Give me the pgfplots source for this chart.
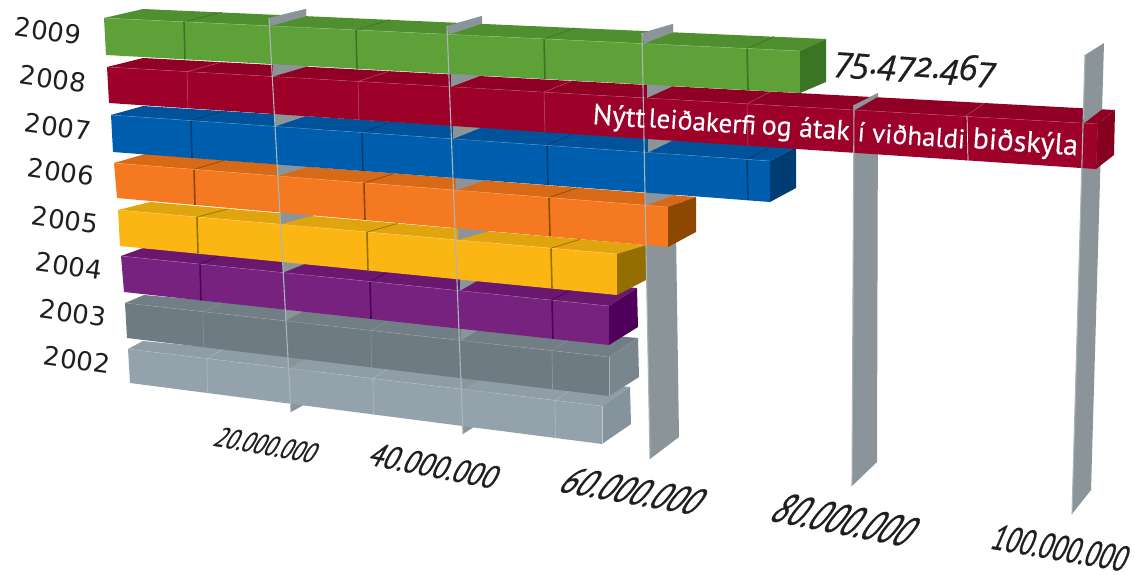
\documentclass[border=0pt]{standalone}
\usepackage{pgfplots}
\pgfplotsset{compat=1.18}
\usepackage{fontspec}
\setmainfont{PT Sans}
\newfontfamily\yr{DejaVu Sans}
\newfontfamily\val[Numbers=OldStyle,FakeBold=.5]{Open Sans Italic}
\newfontfamily\tk[FakeBold=.6]{PT Sans}
\newfontfamily\bartext[FakeBold=.3]{PT Sans}
\definecolor{planec}{HTML}{8B9499}
\definecolor{planel}{HTML}{A9B5BB}
\definecolor{gF}{HTML}{5FA139}\definecolor{gT}{HTML}{4F8F30}\definecolor{gS}{HTML}{3B7523}
\definecolor{rF}{HTML}{9D0029}\definecolor{rT}{HTML}{900024}\definecolor{rS}{HTML}{880020}
\definecolor{bF}{HTML}{005EAE}\definecolor{bT}{HTML}{00539A}\definecolor{bS}{HTML}{003D73}
\definecolor{oF}{HTML}{F47920}\definecolor{oT}{HTML}{D86A17}\definecolor{oS}{HTML}{8E4700}
\definecolor{yF}{HTML}{FCB614}\definecolor{yT}{HTML}{E0A40F}\definecolor{yS}{HTML}{946F00}
\definecolor{pF}{HTML}{782280}\definecolor{pT}{HTML}{6A186F}\definecolor{pS}{HTML}{4F005A}
\definecolor{dF}{HTML}{6F7B82}\definecolor{dT}{HTML}{727E85}\definecolor{dS}{HTML}{7A868D}
\definecolor{lF}{HTML}{94A3AB}\definecolor{lT}{HTML}{8F9EA6}\definecolor{lS}{HTML}{84939C}
\newcommand{\poly}[2]{\addplot[fill=#1,draw=none,no marks,forget plot] coordinates {#2} --cycle;}
\newcommand{\lin}[2]{\addplot[#1,no marks,forget plot] coordinates {#2};}
\newcommand{\wdg}[4]{\poly{planec}{(#1,#2) (#3,#4) (#3,#4-6) (#1,#4-6)}}
\begin{document}
\begin{tikzpicture}
\useasboundingbox (0,0) rectangle (1135pt,574pt);
\begin{axis}[at={(0,0)},anchor=south west,width=1135pt,height=574pt,scale only axis,hide axis,
  xmin=0,xmax=1135,ymin=0,ymax=574,y dir=reverse,clip=false]

% planes (gridlines), behind everything
\poly{planec}{(269,18) (306,9) (320,396) (291,412)}
\poly{planec}{(447,26) (482,16) (494,414) (463,434)}
\poly{planec}{(642,33) (673,24) (679,437) (650,459)}
\poly{planec}{(854,105) (878,93) (877,462) (852,486)}
\poly{planec}{(1085,55) (1104,43) (1091,490) (1072,514)}

% 2002
\poly{lT}{(143,341) (630,387) (602,406) (128,349)}
\poly{lF}{(128,349) (602,406) (602,444) (130,383)}
\poly{lS}{(602,406) (630,387) (631,424) (602,444)}
\lin{lF!75!white,line width=.6pt}{(207,358.5) (207.5,393)}
\lin{lF!75!white,line width=.6pt}{(373,378.5) (373.5,414.5)}
\lin{lF!75!white,line width=.6pt}{(555,400.4) (555.5,438)}
\lin{lF!85!white,line width=.6pt}{(207,358.5) (224,348.7)}
\lin{lF!85!white,line width=.6pt}{(373,378.5) (394.7,364.8)}
\lin{lF!85!white,line width=.6pt}{(555,400.4) (581.7,382.5)}
\lin{lF!75!white,line width=.4pt}{(128,349) (602,406)}
\lin{lF!60!white,line width=.6pt}{(602,406) (602,444)}
\wdg{289}{368.4}{308.4}{356.6}
\wdg{463}{389.3}{487}{374.9}

% 2003
\poly{dT}{(144,295) (638,338) (609,357) (125,303)}
\poly{dF}{(125,303) (609,357) (609,396) (127,338)}
\poly{dS}{(609,357) (638,338) (639,377) (609,396)}
\lin{dF!80!white,line width=.5pt}{(203,311.7) (203.5,347.1)}
\lin{dF!80!white,line width=.5pt}{(371,330.5) (371.5,367.4)}
\lin{dF!75!white,line width=.6pt}{(552,350.7) (552.5,389.1)}
\lin{dF!85!white,line width=.5pt}{(203,311.7) (223.6,301.9)}
\lin{dF!85!white,line width=.5pt}{(371,330.5) (395,317)}
\lin{dF!85!white,line width=.5pt}{(552,350.7) (580,332.9)}
\lin{dF!75!white,line width=.4pt}{(125,303) (609,357)}
\lin{dF!60!white,line width=.6pt}{(609,357) (609,396)}
\wdg{285}{320.9}{307}{309.2}
\wdg{461}{340.5}{487}{324.8}

% 2004
\poly{pT}{(143,248) (637,288) (609,306) (121,256)}
\poly{pF}{(121,256) (609,306) (609,345) (124,292)}
\poly{pS}{(609,306) (637,288) (638,327) (609,345)}
\lin{pS,line width=1.6pt}{(200,264.1) (201,300.4)}
\lin{pS,line width=1.6pt}{(370,281.5) (371,318.9)}
\lin{pS,line width=1.6pt}{(552,300.2) (553,338.8)}
\lin{pS,line width=.7pt}{(200,264.1) (223,254.5)}
\lin{pS,line width=.7pt}{(370,281.5) (395,268.4)}
\lin{pS,line width=.7pt}{(552,300.2) (579.3,285.3)}
\lin{pF!70!white,line width=.4pt}{(121,256) (609,306)}
\wdg{283}{272.6}{307}{263}
\wdg{460}{290.7}{486}{275.8}

% 2005
\poly{yT}{(150,202) (646,245) (617,254) (118,210)}
\poly{yF}{(118,210) (617,254) (617,295) (120,246)}
\poly{yS}{(617,254) (646,245) (646,280) (617,295)}
\lin{yS,line width=1.6pt}{(197,217) (198,253.6)}
\lin{yS,line width=1.6pt}{(367,232) (368,270.4)}
\lin{yS,line width=1.6pt}{(551,248.2) (552,288.5)}
\lin{yS,line width=.7pt}{(197,217) (228.5,208.8)}
\lin{yS,line width=.7pt}{(367,232) (397.5,223.5)}
\lin{yS,line width=.7pt}{(551,248.2) (580.4,239.3)}
\lin{yF!70!white,line width=.4pt}{(118,210) (617,254)}
\wdg{280}{224.3}{311}{216}
\wdg{458}{240}{488}{231.3}

% 2006
\poly{oT}{(145,154) (696,197) (668,207) (114,163)}
\poly{oF}{(114,163) (668,207) (668,247) (117,198)}
\poly{oS}{(668,207) (696,197) (696,232) (668,247)}
\lin{oS,line width=1.6pt}{(194,169.4) (195,204.8)}
\lin{oS,line width=1.6pt}{(364,182.9) (365,219.9)}
\lin{oS,line width=1.6pt}{(549,197.5) (550,236.4)}
\lin{oS,line width=.7pt}{(194,169.4) (224.6,160.2)}
\lin{oS,line width=.7pt}{(364,182.9) (393.7,173.6)}
\lin{oS,line width=.7pt}{(549,197.5) (577.7,187.7)}
\lin{oF!70!white,line width=.4pt}{(114,163) (668,207)}
\wdg{278}{176}{308}{166.7}
\wdg{456}{190.2}{485}{180.5}
\wdg{646}{205.2}{674}{195.3}

% 2007
\poly{bT}{(143,106) (796,147) (770,161) (111,115)}
\poly{bF}{(111,115) (770,161) (770,202) (113,152)}
\poly{bS}{(770,161) (796,147) (796,188) (770,202)}
\lin{bS,line width=1.6pt}{(191,120.6) (192,157.9)}
\lin{bS,line width=1.6pt}{(362,132.5) (363,170.9)}
\lin{bS,line width=1.6pt}{(547,145.4) (548,185)}
\lin{bS,line width=1.6pt}{(747,159.4) (748,200.2)}
\lin{bS,line width=.7pt}{(191,120.6) (222.3,111)}
\lin{bS,line width=.7pt}{(362,132.5) (391.7,121.6)}
\lin{bS,line width=.7pt}{(547,145.4) (575,133.1)}
\lin{bS,line width=.7pt}{(747,159.4) (773,145.6)}
\lin{bF!70!white,line width=.4pt}{(111,115) (770,161)}
\wdg{275}{126.4}{305.5}{116.2}
\wdg{453}{138.9}{482}{127.3}
\wdg{648}{152.5}{675}{139.4}

% 2008
\poly{rT}{(143,58) (1115,110) (1098,124) (107,67)}
\poly{rF}{(107,67) (1098,124) (1096,169) (109,103)}
\poly{rS}{(1098,124) (1115,110) (1114,155) (1096,169)}
\lin{rF!65!white,line width=.5pt}{(187,71.6) (188,108.2)}
\lin{rF!65!white,line width=.5pt}{(358,81.4) (359,119.8)}
\lin{rF!65!white,line width=.5pt}{(544,92.1) (545,132.1)}
\lin{rF!65!white,line width=.5pt}{(747,103.8) (748,145.7)}
\lin{rS,line width=1.2pt}{(965,116.3) (966,160.3)}
\lin{white,line width=.7pt}{(967,116.3) (968,160.3)}
\lin{rF!70!white,line width=.5pt}{(187,71.6) (221.5,62.2)}
\lin{rF!70!white,line width=.5pt}{(358,81.4) (389,71.2)}
\lin{rF!70!white,line width=.5pt}{(544,92.1) (571.6,80.9)}
\lin{rF!70!white,line width=.5pt}{(747,103.8) (770.7,91.6)}
\lin{rF!70!white,line width=.5pt}{(965,116.3) (984.5,103)}
\lin{rF!70!white,line width=.4pt}{(107,67) (1098,124)}
\wdg{273}{76.5}{306}{66.8}
\wdg{451}{86.8}{480}{76}
\wdg{647}{98}{672.6}{86.3}
\poly{planec}{(855,110) (877,97.3) (878,93) (854,105)}
\wdg{1084}{123.2}{1102}{109.3}

% 2009
\poly{gT}{(143,9) (826,39) (800,51) (104,18)}
\poly{gF}{(104,18) (800,51) (800,93) (106,55)}
\poly{gS}{(800,51) (826,39) (826,82) (800,93)}
\lin{gS,line width=1.6pt}{(184,21.8) (185,59.3)}
\lin{gS,line width=1.6pt}{(356,29.9) (357,68.7)}
\lin{gS,line width=1.6pt}{(544,38.9) (545,79)}
\lin{gS,line width=1.6pt}{(747,48.5) (748,90.2)}
\lin{gS,line width=.7pt}{(184,21.8) (221.5,12.4)}
\lin{gS,line width=.7pt}{(356,29.9) (390,19.7)}
\lin{gS,line width=.7pt}{(544,38.9) (575,28)}
\lin{gS,line width=.7pt}{(747,48.5) (774,36.7)}
\lin{gF!70!white,line width=.4pt}{(104,18) (800,51)}
\poly{planec}{(271,25.9) (306,16.2) (306,9) (269,18)}
\poly{planec}{(449,34.4) (481.5,23.9) (482,16) (447,26)}
\poly{planec}{(644,43.6) (673,32.3) (673,24) (642,33)}

% front edges of the planes
\lin{planel,line width=1.1pt}{(269,18) (291,412)}
\lin{planel,line width=1.1pt}{(447,26) (463,434)}
\lin{planel,line width=1.1pt}{(642,33) (650,459)}
\lin{planel,line width=1.1pt}{(854,105) (852,486)}
\lin{planel,line width=1.1pt}{(1085,55) (1072,514)}

% year labels
\node[font=\yr\fontsize{26}{26}\selectfont,text=black!88,rotate=-8] at (axis cs:48,31) {2009};
\node[font=\yr\fontsize{26}{26}\selectfont,text=black!88,rotate=-8] at (axis cs:53,79) {2008};
\node[font=\yr\fontsize{26}{26}\selectfont,text=black!88,rotate=-8] at (axis cs:58,127) {2007};
\node[font=\yr\fontsize{26}{26}\selectfont,text=black!88,rotate=-8] at (axis cs:61,172) {2006};
\node[font=\yr\fontsize{26}{26}\selectfont,text=black!88,rotate=-8] at (axis cs:65,220) {2005};
\node[font=\yr\fontsize{26}{26}\selectfont,text=black!88,rotate=-8] at (axis cs:69,266) {2004};
\node[font=\yr\fontsize{26}{26}\selectfont,text=black!88,rotate=-8] at (axis cs:73,313) {2003};
\node[font=\yr\fontsize{26}{26}\selectfont,text=black!88,rotate=-8] at (axis cs:77,360) {2002};

% value label
\node[font=\val\fontsize{35}{35}\selectfont,text=black!88,rotate=-4] at (axis cs:915,67) {75.472.467};

% bar text
\node[font=\bartext\fontsize{29}{29}\selectfont,text=white,rotate=-4,anchor=base west,inner sep=0pt] at (axis cs:592,124) {Nýtt};
\node[font=\bartext\fontsize{27}{27}\selectfont,text=white,rotate=-4,anchor=base west,inner sep=0pt] at (axis cs:648,127) {leiðakerfi};
\node[font=\bartext\fontsize{28}{28}\selectfont,text=white,rotate=-4,anchor=base west,inner sep=0pt] at (axis cs:761,134) {og átak};
\node[font=\bartext\fontsize{27}{27}\selectfont,text=white,rotate=-4,anchor=base west,inner sep=0pt] at (axis cs:857,141) {í viðhaldi};
\node[font=\bartext\fontsize{30}{30}\selectfont,text=white,rotate=-4,anchor=base west,inner sep=0pt] at (axis cs:972,148) {biðskýla};

% axis labels
\node[transform shape,cm={.8,-.14,.6,1,(0,0)},font=\tk\fontsize{26}{26}\selectfont,text=black!88] at (axis cs:267,445) {20.000.000};
\node[transform shape,cm={.88,-.17,.55,1,(0,0)},font=\tk\fontsize{30}{30}\selectfont,text=black!88] at (axis cs:435,466) {40.000.000};
\node[transform shape,cm={.84,-.145,.8,1,(0,0)},font=\tk\fontsize{34}{34}\selectfont,text=black!88] at (axis cs:634,491) {60.000.000};
\node[transform shape,cm={.75,-.145,.8,1,(0,0)},font=\tk\fontsize{38}{38}\selectfont,text=black!88] at (axis cs:846,520) {80.000.000};
\node[transform shape,cm={.74,-.127,.44,1,(0,0)},font=\tk\fontsize{34}{34}\selectfont,text=black!88] at (axis cs:1061,548) {100.000.000};
\end{axis}
\end{tikzpicture}
\end{document}
